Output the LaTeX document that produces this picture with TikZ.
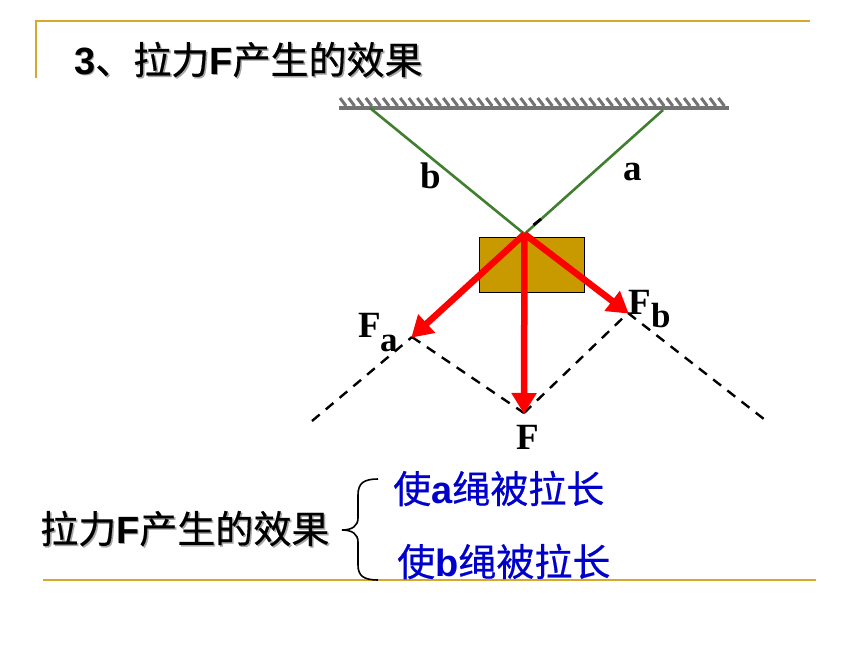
\documentclass[tikz,border=0pt]{standalone}
\usepackage{fontspec}
\setmainfont{Liberation Serif}
\newfontfamily\cjk[FakeBold=0.5]{Noto Sans CJK SC}
\newfontfamily\lat{Liberation Sans}
\usetikzlibrary{arrows.meta,calc}
\definecolor{goldrule}{HTML}{D6A92E}
\definecolor{rope}{HTML}{3F7F2F}
\definecolor{boxfill}{HTML}{C99A00}
\definecolor{bluetext}{HTML}{0000CC}
\newcommand{\zhF}{{\cjk 拉力}{\lat\bfseries F}{\cjk 产生的效果}}
\tikzset{
  rulegold/.style={draw=goldrule,line width=2.4pt},
  ropeline/.style={draw=rope,line width=2.6pt},
  force/.style={draw=red,line width=6.5pt,-{Triangle[length=21pt,width=24pt]},shorten >=-1pt},
  guide/.style={draw=black,line width=2.4pt,dash pattern=on 10pt off 8pt},
  lab/.style={anchor=base west,inner sep=0pt,font=\fontsize{37}{37}\selectfont\bfseries},
  sublab/.style={anchor=base west,inner sep=0pt,font=\fontsize{35}{35}\selectfont\bfseries},
  heading/.style={anchor=base west,inner sep=0pt,font=\fontsize{38}{38}\selectfont},
  shade/.style={heading,text=black!35},
  effect/.style={heading,text=bluetext}
}
\begin{document}
\begin{tikzpicture}[x=1pt,y=-1pt]
\useasboundingbox (0,0) rectangle (860,645);
% slide rules
\coordinate (tl) at (36,21); \coordinate (tr) at (810,21); \coordinate (lb) at (36,78);
\coordinate (bl) at (43,580); \coordinate (br) at (816,580);
\draw[rulegold] (lb) -- (tl) -- (tr);
\draw[rulegold] (bl) -- (br);
% title
\node[shade] (titleS) at (75.5,75.5) {{\lat\bfseries 3}{\cjk 、}\zhF};
\node[heading] (title) at (74,74) {{\lat\bfseries 3}{\cjk 、}\zhF};
% ceiling
\fill[black!55] (339,105.5) rectangle (729,110);
\foreach \i in {0,...,44} {
  \draw[black!55,line width=3pt] ({340+8.6*\i},98) -- ({346+8.6*\i},106);
}
% ropes
\coordinate (O) at (524.5,234);
\coordinate (ropeB) at (370,108);
\coordinate (ropeA) at (663,110);
\draw[ropeline] (ropeB) -- (O);
\draw[ropeline] (ropeA) -- (O);
\coordinate (k1) at (533.5,225); \coordinate (k2) at (541,219);
\draw[black,line width=2.8pt] (k1) -- (k2);
% box
\node[draw=black,fill=boxfill,line width=1.2pt,minimum width=105pt,minimum height=55pt,inner sep=0pt] (box) at (532,265) {};
% parallelogram
\coordinate (A) at (412,337); \coordinate (B) at (628,313); \coordinate (C) at (524,413);
\coordinate (endL) at (312,421); \coordinate (endR) at (769,423);
\draw[guide] (endL) -- (A);
\draw[guide] (A) -- (C);
\draw[guide] (C) -- (B);
\draw[guide] (B) -- (endR);
% forces
\draw[force] (O) -- (A);
\draw[force] (O) -- (C);
\draw[force] (O) -- (B);
% labels
\node[lab] (lb1) at (420,188) {b};
\node[lab] (la1) at (623,180) {a};
\node[lab] (Fa) at (358,337) {F};
\node[sublab] (Fas) at (380,351) {a};
\node[lab] (Fb) at (628,314) {F};
\node[sublab] (Fbs) at (651,327) {b};
\node[lab] (F) at (516,449) {F};
% bottom
\node[shade] (sumS) at (41.5,544.5) {\zhF};
\node[heading] (sum) at (40,543) {\zhF};
\coordinate (b1) at (378,479); \coordinate (b2) at (342,530); \coordinate (b3) at (378,580);
\draw[black,line width=1.6pt] (b1) .. controls (364,479) and (358,483) .. (358,495)
  -- (358,518) .. controls (358,526) and (352,530) .. (b2)
  .. controls (352,530) and (358,534) .. (358,542)
  -- (358,565) .. controls (358,576) and (364,580) .. (b3);
\node[effect] (e1) at (393,503) {{\cjk 使}{\lat\bfseries a}{\cjk 绳被拉长}};
\node[effect] (e2) at (397,576) {{\cjk 使}{\lat\bfseries b}{\cjk 绳被拉长}};
\end{tikzpicture}
\end{document}
